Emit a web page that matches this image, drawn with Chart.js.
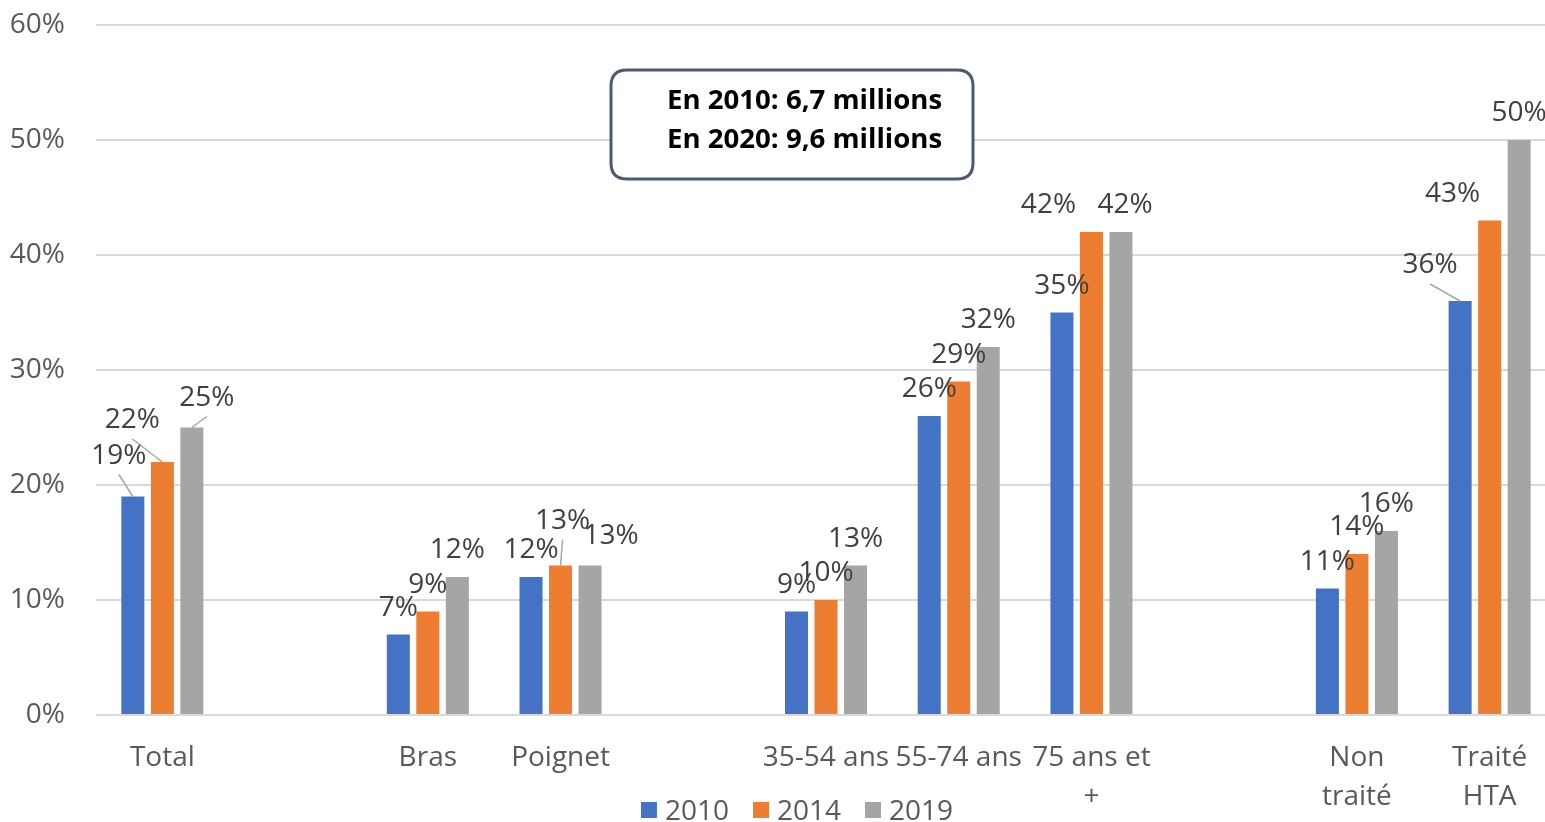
<!DOCTYPE html>
<html>
<head>
<meta charset="utf-8">
<script src="https://cdn.jsdelivr.net/npm/chart.js@4/dist/chart.umd.min.js"></script>
<style>
html,body{margin:0;padding:0;background:#fff;overflow:hidden;width:1545px;height:822px;}
canvas{display:block;}
</style>
</head>
<body>
<canvas id="c" width="1556" height="822"></canvas>
<script>
// ---- data ----
const categories = ['Total', '', 'Bras', 'Poignet', '', '35-54 ans', '55-74 ans', ['75 ans et', '+'], '', ['Non', 'traité'], ['Traité', 'HTA']];
const seriesNames = ['2010', '2014', '2019'];
const values2010 = [19, null, 7, 12, null, 9, 26, 35, null, 11, 36];
const values2014 = [22, null, 9, 13, null, 10, 29, 42, null, 14, 43];
const values2019 = [25, null, 12, 13, null, 13, 32, 42, null, 16, 50];
const yTicks = [0, 10, 20, 30, 40, 50, 60];
const noteLines = ['En 2010: 6,7 millions', 'En 2020: 9,6 millions'];

// ---- style ----
const colors = ['#4472C4', '#ED7D31', '#A5A5A5'];
const FONT = "'Open Sans', 'DejaVu Sans', sans-serif";
const FS = 28;
// label adjustments [dx, dy, leader] keyed "dataset-index"
const labelAdjust = {
  '0-0': [-14, -14, true],
  '1-0': [-30, -15, true],
  '2-0': [15, -3, true],
  '1-3': [2, -18, true],
  '2-3': [21, -3, false],
  '1-7': [-43, 0, false],
  '2-7': [4, 0, false],
  '0-10': [-30, -9, true],
  '1-10': [-37, 0, false]
};

const labelPlugin = {
  id: 'barLabels',
  afterDatasetsDraw(chart) {
    const ctx = chart.ctx;
    ctx.save();
    ctx.font = FS + 'px ' + FONT;
    ctx.textAlign = 'center';
    ctx.textBaseline = 'alphabetic';
    chart.data.datasets.forEach((ds, di) => {
      const meta = chart.getDatasetMeta(di);
      meta.data.forEach((bar, i) => {
        const v = ds.data[i];
        if (v === null || v === undefined) return;
        const adj = labelAdjust[di + '-' + i] || [0, 0, false];
        const cx = bar.x + adj[0];
        const cy = bar.y - 29 + adj[1];
        if (adj[2]) {
          ctx.strokeStyle = '#A6A6A6';
          ctx.lineWidth = 1.5;
          ctx.beginPath();
          ctx.moveTo(cx, cy + 21);
          ctx.lineTo(bar.x, bar.y);
          ctx.stroke();
        }
        ctx.fillStyle = '#404040';
        ctx.fillText(v + '%', cx, cy + 10);
      });
    });
    ctx.restore();
  }
};

function roundRect(ctx, x, y, w, h, r) {
  ctx.beginPath();
  ctx.moveTo(x + r, y);
  ctx.lineTo(x + w - r, y);
  ctx.quadraticCurveTo(x + w, y, x + w, y + r);
  ctx.lineTo(x + w, y + h - r);
  ctx.quadraticCurveTo(x + w, y + h, x + w - r, y + h);
  ctx.lineTo(x + r, y + h);
  ctx.quadraticCurveTo(x, y + h, x, y + h - r);
  ctx.lineTo(x, y + r);
  ctx.quadraticCurveTo(x, y, x + r, y);
  ctx.closePath();
}

const notePlugin = {
  id: 'noteBox',
  afterDraw(chart) {
    const ctx = chart.ctx;
    ctx.save();
    roundRect(ctx, 611, 70, 362, 109, 16);
    ctx.fillStyle = '#fff';
    ctx.fill();
    ctx.lineWidth = 3;
    ctx.strokeStyle = '#4B5A72';
    ctx.stroke();
    ctx.fillStyle = '#000';
    ctx.font = 'bold 27.6px ' + FONT;
    ctx.textAlign = 'left';
    ctx.textBaseline = 'alphabetic';
    ctx.fillText(noteLines[0], 667, 109);
    ctx.fillText(noteLines[1], 667, 148);
    ctx.restore();
  }
};

const legendPlugin = {
  id: 'customLegend',
  afterDraw(chart) {
    const ctx = chart.ctx;
    ctx.save();
    ctx.font = FS + 'px ' + FONT;
    const box = 16, gap = 8, spacing = 24;
    const widths = seriesNames.map(s => box + gap + ctx.measureText(s).width);
    const total = widths.reduce((a, b) => a + b, 0) + spacing * (widths.length - 1);
    let x = 797 - total / 2;
    const cy = 810;
    ctx.textBaseline = 'alphabetic';
    ctx.textAlign = 'left';
    seriesNames.forEach((s, i) => {
      ctx.fillStyle = colors[i];
      ctx.fillRect(x, cy - box / 2, box, box);
      ctx.fillStyle = '#595959';
      ctx.fillText(s, x + box + gap, cy + 10);
      x += widths[i] + spacing;
    });
    ctx.restore();
  }
};

function zeroPad(s) { s.paddingLeft = 0; s.paddingRight = 0; s.paddingTop = 0; s.paddingBottom = 0; }

new Chart(document.getElementById('c'), {
  type: 'bar',
  data: {
    labels: categories,
    datasets: [
      { label: seriesNames[0], data: values2010, backgroundColor: colors[0] },
      { label: seriesNames[1], data: values2014, backgroundColor: colors[1] },
      { label: seriesNames[2], data: values2019, backgroundColor: colors[2] }
    ]
  },
  options: {
    responsive: false,
    animation: false,
    devicePixelRatio: 1,
    skipNull: false,
    datasets: { bar: { categoryPercentage: 0.667, barPercentage: 0.78 } },
    layout: { padding: { top: 25, left: 0, right: 0, bottom: 0 } },
    plugins: { legend: { display: false }, tooltip: { enabled: false } },
    scales: {
      x: {
        grid: { display: false, drawTicks: false },
        border: { display: false },
        ticks: {
          font: { family: FONT, size: FS, lineHeight: 1.4 },
          color: '#595959', padding: 23, maxRotation: 0, autoSkip: false
        },
        afterFit(s) { s.height = 107; zeroPad(s); }
      },
      y: {
        min: 0, max: 60,
        afterBuildTicks(s) { s.ticks = yTicks.map(v => ({ value: v })); },
        grid: { color: '#D9D9D9', lineWidth: 2, drawTicks: false },
        border: { display: false },
        ticks: {
          font: { family: FONT, size: FS },
          color: '#595959', padding: 31,
          callback: v => v + '%'
        },
        afterFit(s) { s.width = 96; zeroPad(s); }
      }
    }
  },
  plugins: [labelPlugin, notePlugin, legendPlugin]
});
</script>
</body>
</html>
